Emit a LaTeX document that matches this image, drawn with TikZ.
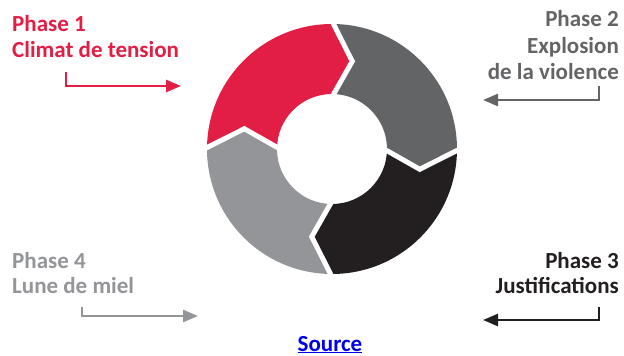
\documentclass[tikz,border=0pt]{standalone}
\usepackage{fontspec}
\setmainfont{Carlito}
\usetikzlibrary{arrows.meta}
\definecolor{cred}{HTML}{E21E45}
\definecolor{cdgray}{HTML}{636466}
\definecolor{cblack}{HTML}{231F20}
\definecolor{clgray}{HTML}{939598}
\definecolor{cblue}{HTML}{0000EE}
\tikzset{
  lbl/.style={inner sep=0pt, font=\fontsize{23}{26}\selectfont\bfseries},
  phasearrow/.style={line width=2.5pt, -{Triangle[length=15pt,width=12pt]}},
  gapline/.style={white, line width=5pt, line join=miter},
}
\newcommand{\Ro}{125}
\newcommand{\Ri}{55}
\newcommand{\Rm}{90}
\newcommand{\dl}{13}
\newcommand{\segment}[3]{% start angle, end angle, color
  \fill[#3] (#1:\Ro) arc[start angle=#1, end angle=#2, radius=\Ro]
    -- ({#2-\dl}:\Rm) -- (#2:\Ri) arc[start angle=#2, end angle=#1, radius=\Ri]
    -- ({#1-\dl}:\Rm) -- cycle;}
\newcommand{\gap}[1]{%
  \draw[gapline] (#1:\Ro+3) -- ({#1-\dl}:\Rm) -- (#1:\Ri-3);}
\begin{document}
\begin{tikzpicture}[x=1pt,y=-1pt]
\useasboundingbox (0,0) rectangle (624,356);
% donut
\begin{scope}[shift={(332,149)}, y=1pt]
  \segment{180}{90}{cred}
  \segment{90}{0}{cdgray}
  \segment{0}{-90}{cblack}
  \segment{-90}{-180}{clgray}
  \gap{90}\gap{0}\gap{-90}\gap{180}
\end{scope}
% labels
\node[lbl, text=cred, anchor=base west] (p1a) at (12,31) {Phase 1};
\node[lbl, text=cred, anchor=base west] (p1b) at (12,57) {Climat de tension};
\node[lbl, text=cdgray, anchor=base east] (p2a) at (619,27) {Phase 2};
\node[lbl, text=cdgray, anchor=base east] (p2b) at (619,53) {Explosion};
\node[lbl, text=cdgray, anchor=base east] (p2c) at (619,79) {de la violence};
\node[lbl, text=cblack, anchor=base east] (p3a) at (619,268) {Phase 3};
\node[lbl, text=cblack, anchor=base east] (p3b) at (619,293) {Justifications};
\node[lbl, text=clgray, anchor=base west] (p4a) at (12,268) {Phase 4};
\node[lbl, text=clgray, anchor=base west] (p4b) at (12,293) {Lune de miel};
\node[lbl, text=cblue, anchor=base] (src) at (330,351) {\underline{Source}};
% arrows
\coordinate (a1s) at (66,72);  \coordinate (a1e) at (181,86);
\coordinate (a2s) at (599,86); \coordinate (a2e) at (483,100);
\coordinate (a3s) at (599,307);\coordinate (a3e) at (483,320);
\coordinate (a4s) at (82,307); \coordinate (a4e) at (198,316);
\draw[phasearrow, cred] (a1s) |- (a1e);
\draw[phasearrow, cdgray] (a2s) |- (a2e);
\draw[phasearrow, cblack] (a3s) |- (a3e);
\draw[phasearrow, clgray] (a4s) |- (a4e);
\end{tikzpicture}
\end{document}
